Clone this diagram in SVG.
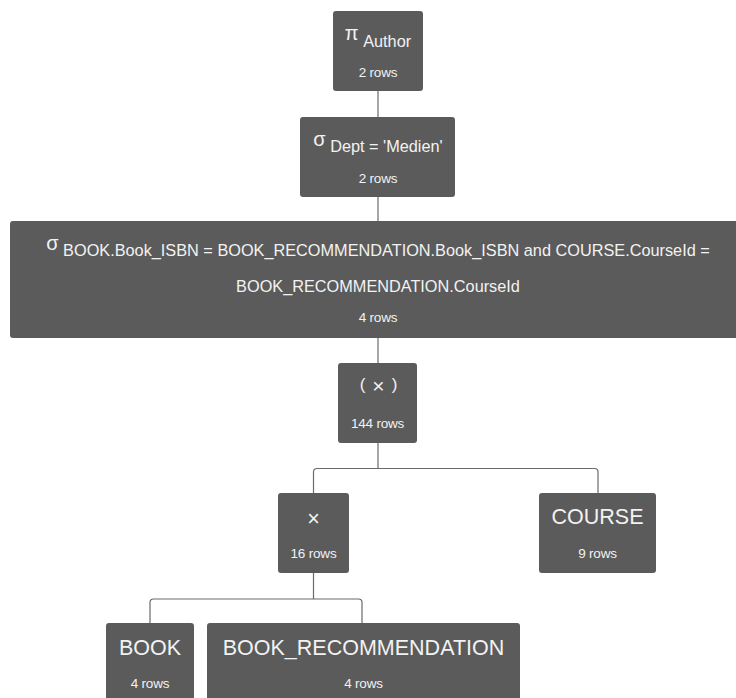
<svg xmlns="http://www.w3.org/2000/svg" width="736" height="698" viewBox="0 0 736 698">
<style>
.n{fill:#5b5b5b;}
.t{fill:#f2f2f2;font-family:"Liberation Sans",Arial,sans-serif;text-anchor:middle;}
.h{font-size:21.5px;}
.g{font-size:20px;}
.s{font-size:16.3px;}
.p{font-size:17px;}
.x{font-size:21px;}
.r{font-size:13.5px;letter-spacing:-0.2px;}
.c{fill:none;stroke:#6a6a6a;stroke-width:1.2;}
</style>
<rect width="736" height="698" fill="#ffffff"/>
<g id="connectors">
<path class="c" d="M378 91V117"/>
<path class="c" d="M378 197V221"/>
<path class="c" d="M378 337V363"/>
<path class="c" d="M378 443V468.5"/>
<path class="c" d="M313.5 493V472a3.5 3.5 0 0 1 3.5-3.5H594.5a3.5 3.5 0 0 1 3.5 3.5V493"/>
<path class="c" d="M313.5 573V599"/>
<path class="c" d="M150 623V602.5a3.5 3.5 0 0 1 3.5-3.5H358.5a3.5 3.5 0 0 1 3.5 3.5V623"/>
</g>
<g id="node-project">
<rect class="n" x="333" y="11" width="90" height="80" rx="3"/>
<text class="t" x="378" y="39.5"><tspan class="g">π</tspan><tspan class="s" dy="7"> Author</tspan></text>
<text class="t r" x="378" y="77">2 rows</text>
</g>
<g id="node-select-dept">
<rect class="n" x="300" y="117" width="155" height="80" rx="3"/>
<text class="t" x="378" y="146"><tspan class="g">σ</tspan><tspan class="s" dy="6.3"> Dept = 'Medien'</tspan></text>
<text class="t r" x="378" y="183">2 rows</text>
</g>
<g id="node-select-join">
<rect class="n" x="10" y="221" width="736" height="117" rx="3"/>
<text class="t" x="378" y="250"><tspan class="g">σ</tspan><tspan class="s" dy="5.5"> BOOK.Book_ISBN = BOOK_RECOMMENDATION.Book_ISBN and COURSE.CourseId =</tspan></text>
<text class="t s" x="378" y="291.7">BOOK_RECOMMENDATION.CourseId</text>
<text class="t r" x="378" y="321.7">4 rows</text>
</g>
<g id="node-cross-outer">
<rect class="n" x="338" y="363" width="79" height="80" rx="3"/>
<text class="t p" x="378.5" y="390">(<tspan class="x" dx="7" dy="3">×</tspan><tspan dx="7" dy="-3">)</tspan></text>
<text class="t r" x="377.5" y="428.3">144 rows</text>
</g>
<g id="node-cross-inner">
<rect class="n" x="278" y="493" width="71" height="80" rx="3"/>
<text class="t h" x="313.5" y="526">×</text>
<text class="t r" x="313.5" y="558.3">16 rows</text>
</g>
<g id="node-course">
<rect class="n" x="539" y="493" width="117" height="80" rx="3"/>
<text class="t h" x="597.5" y="523.5">COURSE</text>
<text class="t r" x="597.5" y="558.3">9 rows</text>
</g>
<g id="node-book">
<rect class="n" x="106" y="623" width="88" height="90" rx="3"/>
<text class="t h" x="150" y="655">BOOK</text>
<text class="t r" x="150" y="687.5">4 rows</text>
</g>
<g id="node-book-recommendation">
<rect class="n" x="207" y="623" width="313" height="90" rx="3"/>
<text class="t h" x="363.5" y="655">BOOK_RECOMMENDATION</text>
<text class="t r" x="363.5" y="687.5">4 rows</text>
</g>
</svg>
